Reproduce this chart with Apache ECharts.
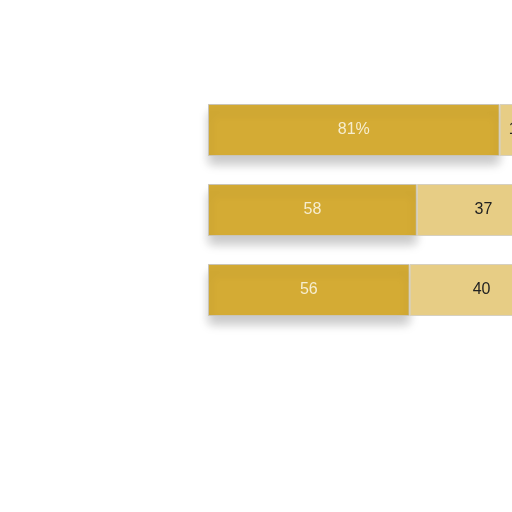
<!DOCTYPE html>
<html>
<head>
<meta charset="utf-8">
<script src="https://cdn.jsdelivr.net/npm/echarts@6/dist/echarts.min.js"></script>
<style>
    html, body { margin: 0; padding: 0; background: #fff; }
    #chart { width: 512px; height: 512px; }
</style>
</head>
<body>
<div id="chart"></div>
<script>
var categories = ['Row 1', 'Row 2', 'Row 3'];
var darkValues = [81, 58, 56];
var lightValues = [10, 37, 40];

var eChart = echarts.init(document.getElementById('chart'));

// the chart is cut off on the right: 100 units would need 360px, only 304 fit
var option = {
    animation: false,
    grid: {
        left: 208,
        right: 0,
        top: 90,
        height: 240
    },
    xAxis: {
        type: 'value',
        min: 0,
        max: 100 * 304 / 360,
        show: false
    },
    yAxis: {
        type: 'category',
        inverse: true,
        data: categories,
        show: false
    },
    series: [{
        name: 'dark',
        type: 'bar',
        stack: 'total',
        barWidth: 52,
        clip: false,
        data: darkValues,
        itemStyle: {
            color: '#d4ab34',
            borderColor: '#c9c4b6',
            borderWidth: 1,
            shadowColor: 'rgba(0,0,0,0.22)',
            shadowBlur: 10,
            shadowOffsetY: 8
        },
        label: {
            show: true,
            position: 'inside',
            color: '#f6edcf',
            fontFamily: 'Liberation Sans',
            fontSize: 16,
            formatter: function (p) {
                return p.dataIndex === 0 ? p.value + '%' : p.value;
            }
        }
    }, {
        name: 'light',
        type: 'bar',
        stack: 'total',
        barWidth: 52,
        clip: false,
        data: lightValues,
        itemStyle: {
            color: '#e7cd85',
            borderColor: '#d6d0c0',
            borderWidth: 1
        },
        label: {
            show: true,
            position: 'inside',
            color: '#222',
            fontFamily: 'Liberation Sans',
            fontSize: 16
        }
    }]
};

eChart.setOption(option);
</script>
</body>
</html>
